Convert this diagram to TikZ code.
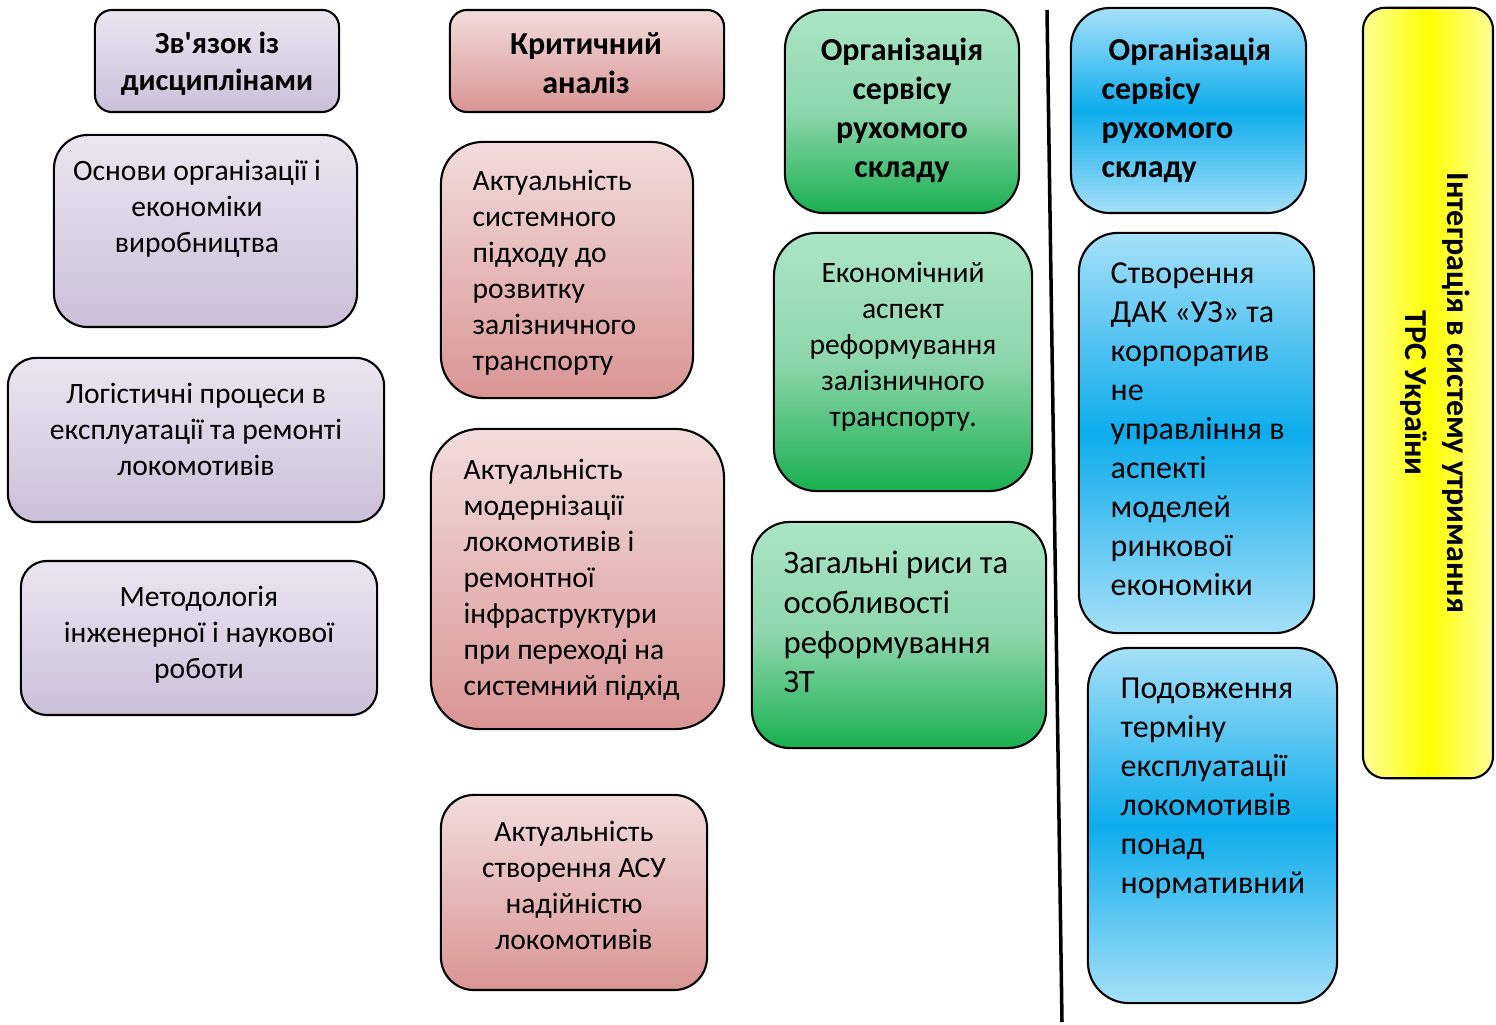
\documentclass[tikz,border=0pt]{standalone}
\usepackage{fontspec}
\setmainfont{Carlito}
\usepackage{xcolor}
\usepackage{tikz}

\definecolor{lilacTop}{HTML}{EBE6F1}
\definecolor{lilacBot}{HTML}{CBBFD9}
\definecolor{roseTop}{HTML}{F2DCDB}
\definecolor{roseBot}{HTML}{D99594}
\definecolor{mintTop}{HTML}{ACE5C6}
\definecolor{mintMid}{HTML}{8DD6AC}
\definecolor{mintBot}{HTML}{19B050}
\definecolor{skyEdge}{HTML}{A6E0F8}
\definecolor{skyMid}{HTML}{0DACEC}
\definecolor{lemonEdge}{HTML}{FFFF99}

\tikzset{
	box/.style={draw=black,line width=0.6pt},
	lilac/.style={box,top color=lilacTop,bottom color=lilacBot},
	rose/.style={box,top color=roseTop,bottom color=roseBot},
	mint/.style={box,top color=mintTop,bottom color=mintBot,middle color=mintMid},
	sky/.style={box,top color=skyEdge,bottom color=skyEdge,middle color=skyMid},
	lemon/.style={box,left color=lemonEdge,right color=lemonEdge,middle color=yellow},
	txt/.style={inner sep=0pt,font=\fontsize{8.4}{10.25}\selectfont},
	bigtxt/.style={inner sep=0pt,font=\fontsize{9.1}{11.1}\selectfont},
	headtxt/.style={inner sep=0pt,font=\bfseries\fontsize{9.1}{11.1}\selectfont}
}

\begin{document}
\begin{tikzpicture}[x=0.01cm,y=-0.01cm]
	\useasboundingbox (0,0) rectangle (1496,1025);
	
	% links with disciplines
	\node[lilac,minimum width=2.44cm,minimum height=1.02cm,rounded corners=0.17cm] (zv) at (217,61) {};
	\node[headtxt,anchor=north,align=center,font=\bfseries\fontsize{8.7}{10.55}\selectfont] (zv-t) at (217,31) {Зв\textquotesingle язок із\\дисциплінами};
	\node[lilac,minimum width=3.03cm,minimum height=1.92cm,rounded corners=0.34cm] (osn) at (205.5,231) {};
	\node[txt,anchor=north,align=center] (osn-t) at (197,159) {Основи організації і\\економіки\\виробництва};
	\node[lilac,minimum width=3.76cm,minimum height=1.64cm,rounded corners=0.28cm] (log) at (196,440) {};
	\node[txt,anchor=north,align=center] (log-t) at (196,382) {Логістичні процеси в\\експлуатації та ремонті\\локомотивів};
	\node[lilac,minimum width=3.56cm,minimum height=1.54cm,rounded corners=0.26cm] (met) at (199,638) {};
	\node[txt,anchor=north,align=center] (met-t) at (199,585) {Методологія\\інженерної і наукової\\роботи};
	
	% critical analysis
	\node[rose,minimum width=2.74cm,minimum height=1.02cm,rounded corners=0.17cm] (krit) at (587,61) {};
	\node[headtxt,anchor=north,align=center] (krit-t) at (586,32) {Критичний\\аналіз};
	\node[rose,minimum width=2.52cm,minimum height=2.56cm,rounded corners=0.42cm] (akt1) at (567,270) {};
	\node[txt,anchor=north west,align=left] (akt1-t) at (472,169) {Актуальність\\системного\\підходу до\\розвитку\\залізничного\\транспорту};
	\node[rose,minimum width=2.93cm,minimum height=3.00cm,rounded corners=0.49cm] (akt2) at (577.5,579) {};
	\node[txt,anchor=north west,align=left] (akt2-t) at (463,458) {Актуальність\\модернізації\\локомотивів і\\ремонтної\\інфраструктури\\при переході на\\системний підхід};
	\node[rose,minimum width=2.66cm,minimum height=1.95cm,rounded corners=0.33cm] (akt3) at (574,892.5) {};
	\node[txt,anchor=north,align=center] (akt3-t) at (574,820) {Актуальність\\створення АСУ\\надійністю\\локомотивів};
	
	% rolling stock service, green
	\node[mint,minimum width=2.34cm,minimum height=2.03cm,rounded corners=0.39cm] (org1) at (902,111.5) {};
	\node[headtxt,anchor=north,align=center] (org1-t) at (902,37) {Організація\\сервісу\\рухомого\\складу};
	\node[mint,minimum width=2.58cm,minimum height=2.58cm,rounded corners=0.43cm] (ekon) at (903,362) {};
	\node[txt,anchor=north,align=center] (ekon-t) at (903,261) {Економічний\\аспект\\реформування\\залізничного\\транспорту.};
	\node[mint,minimum width=2.94cm,minimum height=2.26cm,rounded corners=0.38cm] (zag) at (899,635) {};
	\node[bigtxt,anchor=north west,align=left,font=\fontsize{9.3}{11.35}\selectfont] (zag-t) at (783,550) {Загальні риси та\\особливості\\реформування\\ЗТ};
	
	% divider
	\coordinate (sepTop) at (1047,10);
	\coordinate (sepBot) at (1062,1022);
	\draw[line width=1pt] (sepTop) -- (sepBot);
	
	% rolling stock service, blue
	\node[sky,minimum width=2.35cm,minimum height=2.05cm,rounded corners=0.39cm] (org2) at (1188.5,110.5) {};
	\node[headtxt,anchor=north west,align=left] (org2-t) at (1101,37) {\hspace*{0.07cm}Організація\\сервісу\\рухомого\\складу};
	\node[sky,minimum width=2.35cm,minimum height=4.00cm,rounded corners=0.39cm] (stv) at (1196.5,433) {};
	\node[bigtxt,anchor=north west,align=left] (stv-t) at (1110,262) {Створення\\ДАК «УЗ» та\\корпоратив\\не\\управління в\\аспекті\\моделей\\ринкової\\економіки};
	\node[sky,minimum width=2.49cm,minimum height=3.55cm,rounded corners=0.41cm] (pod) at (1212.5,825.5) {};
	\node[bigtxt,anchor=north west,align=left] (pod-t) at (1120,677) {Подовження\\терміну\\експлуатації\\локомотивів\\понад\\нормативний};
	
	% integration
	\node[lemon,minimum width=1.30cm,minimum height=7.70cm,rounded corners=0.22cm] (integr) at (1428,393) {};
	\node[headtxt,rotate=-90,align=center,font=\bfseries\fontsize{9.1}{11.95}\selectfont] (integr-t) at (1435,393) {Інтеграція в систему утримання\\ТРС України};
\end{tikzpicture}
\end{document}
